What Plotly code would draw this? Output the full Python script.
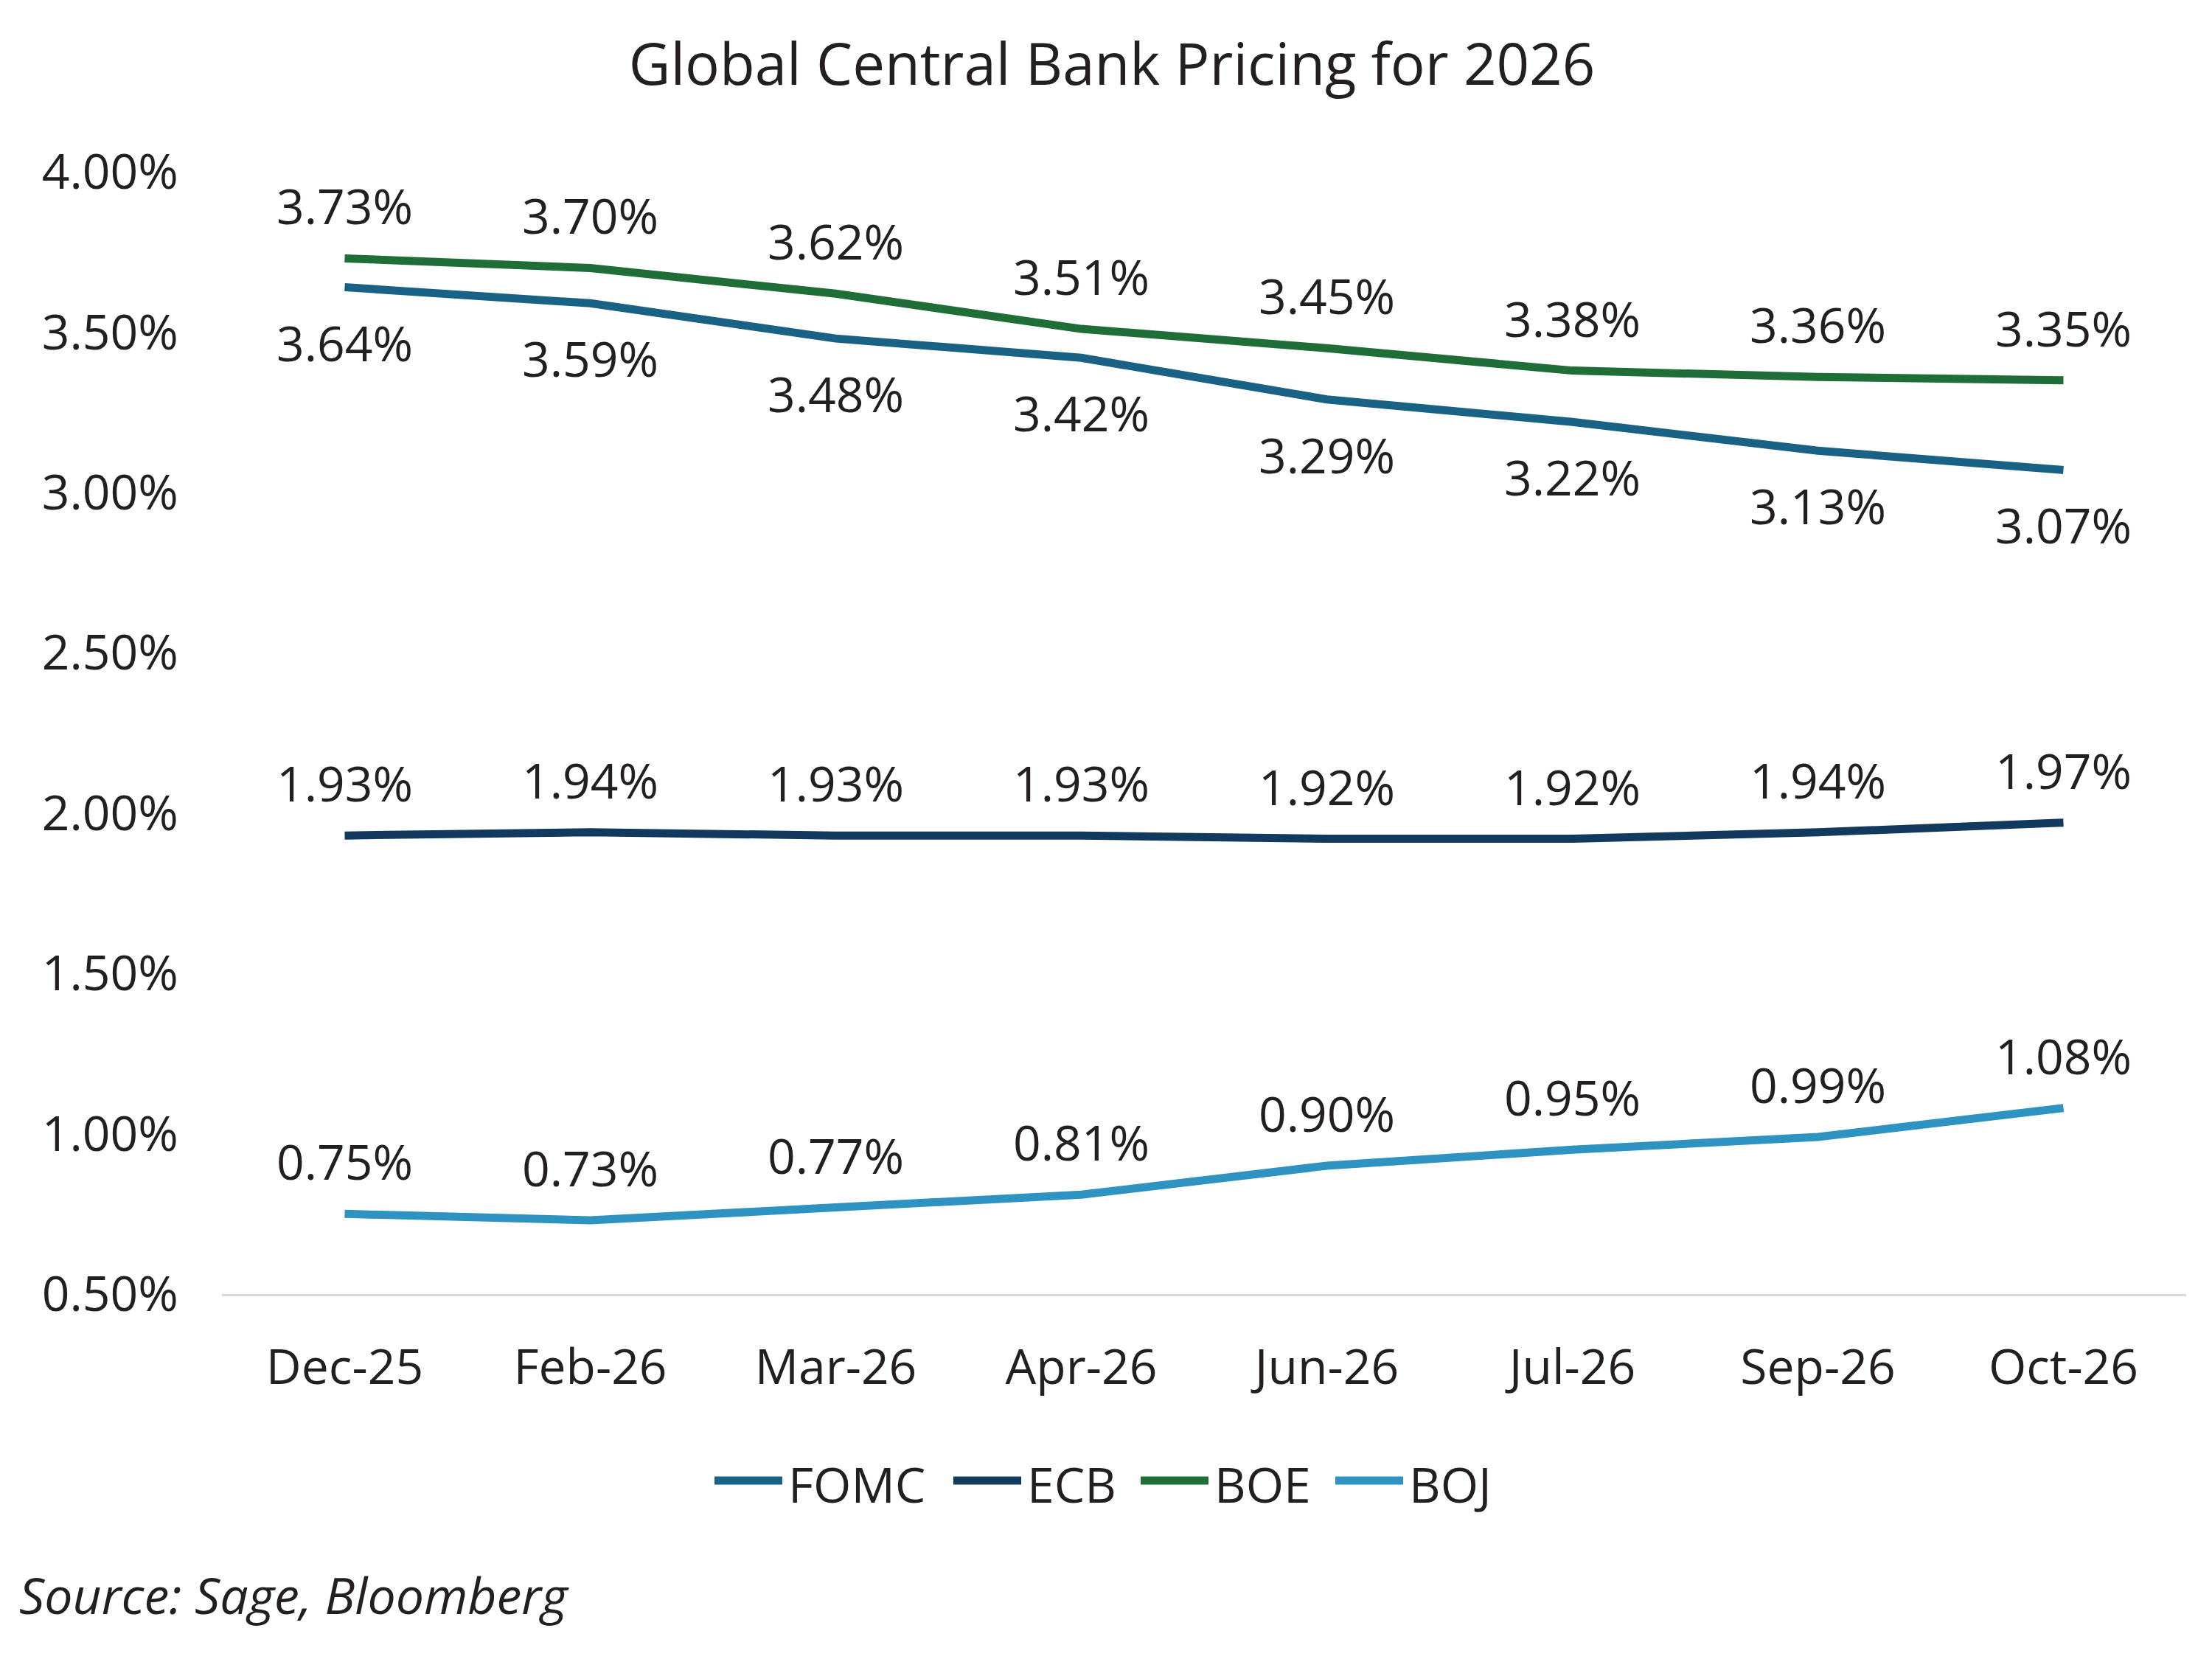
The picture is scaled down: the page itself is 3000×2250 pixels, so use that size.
import plotly.graph_objects as go

# Data
months = ["Dec-25", "Feb-26", "Mar-26", "Apr-26", "Jun-26", "Jul-26", "Sep-26", "Oct-26"]
fomc = [3.64, 3.59, 3.48, 3.42, 3.29, 3.22, 3.13, 3.07]
ecb = [1.93, 1.94, 1.93, 1.93, 1.92, 1.92, 1.94, 1.97]
boe = [3.73, 3.70, 3.62, 3.51, 3.45, 3.38, 3.36, 3.35]
boj = [0.75, 0.73, 0.77, 0.81, 0.90, 0.95, 0.99, 1.08]
y_ticks = [0.5, 1.0, 1.5, 2.0, 2.5, 3.0, 3.5, 4.0]

colors = {
    "FOMC": "#1A6186",
    "ECB": "#123A5E",
    "BOE": "#1F6E38",
    "BOJ": "#2E93C1",
}
FONT = "Open Sans"
TXT = "#231F20"

W, H = 3000, 2250
M = dict(l=293, r=43, t=225, b=503)
plot_w = W - M["l"] - M["r"]
plot_h = H - M["t"] - M["b"]


def px_x(px):
    return (px - M["l"]) / plot_w


def px_y(py):
    return (H - M["b"] - py) / plot_h


# label placement: above (+) or below (-) the line
series = [
    ("FOMC", fomc, -74),
    ("ECB", ecb, 72),
    ("BOE", boe, 72),
    ("BOJ", boj, 72),
]

fig = go.Figure()
for name, vals, shift in series:
    fig.add_trace(go.Scatter(
        x=months, y=vals, name=name, mode="lines",
        line=dict(color=colors[name], width=11),
        hoverinfo="skip",
    ))
    for m, v in zip(months, vals):
        fig.add_annotation(
            x=m, y=v, text=f"{v:.2f}%", showarrow=False,
            yshift=shift, yanchor="middle",
            font=dict(family=FONT, size=66, color=TXT),
        )

# legend drawn by hand so the swatches are long like the original
legend_start = [961, 1285, 1539, 1803]
legend_y = 2000
for (name, _, _), x0 in zip(series, legend_start):
    fig.add_shape(
        type="line", xref="paper", yref="paper",
        x0=px_x(x0), x1=px_x(x0 + 92), y0=px_y(legend_y), y1=px_y(legend_y),
        line=dict(color=colors[name], width=11),
    )
    fig.add_annotation(
        text=name, xref="paper", yref="paper",
        x=px_x(x0 + 98), y=px_y(legend_y + 4),
        xanchor="left", yanchor="middle", showarrow=False,
        font=dict(family=FONT, size=66, color=TXT),
    )

fig.add_annotation(
    text="Source: Sage, Bloomberg",
    xref="paper", yref="paper", x=px_x(16), y=px_y(2154),
    xanchor="left", yanchor="middle", showarrow=False,
    font=dict(family=FONT, size=68, color=TXT, style="italic"),
)

fig.update_layout(
    width=W, height=H,
    margin=M,
    paper_bgcolor="white", plot_bgcolor="white",
    font=dict(family=FONT, size=66, color=TXT),
    title=dict(
        text="Global Central Bank Pricing for 2026",
        x=0.5, xanchor="center", y=1 - 80 / H, yanchor="middle",
        font=dict(family=FONT, size=78, color=TXT),
    ),
    showlegend=False,
)
fig.update_xaxes(
    range=[-0.5, len(months) - 0.5],
    showgrid=False, showline=True, linecolor="#D9D9D9", linewidth=3,
    ticks="outside", ticklen=40, tickcolor="rgba(0,0,0,0)",
    tickfont=dict(family=FONT, size=66, color=TXT),
)
fig.update_yaxes(
    range=[0.5, 4.0], tickvals=y_ticks,
    ticktext=[f"{v:.2f}%" for v in y_ticks],
    showgrid=False, zeroline=False, showline=False,
    ticks="outside", ticklen=45, tickcolor="rgba(0,0,0,0)",
    tickfont=dict(family=FONT, size=66, color=TXT),
)

fig.write_html("out.html")
